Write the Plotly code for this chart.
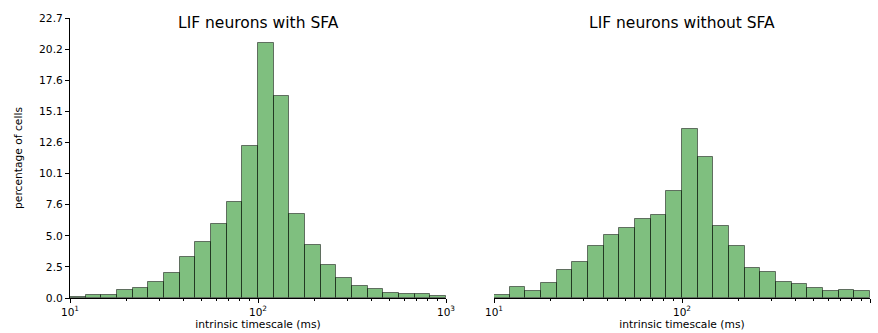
import numpy as np
import plotly.graph_objects as go

# 24 log-spaced bins from 10 to 1000 ms (12 per decade)
bin_edges = [10 ** (1 + k / 12) for k in range(25)]
bin_left = bin_edges[:-1]
bin_width = [bin_edges[i + 1] - bin_edges[i] for i in range(24)]

with_sfa = [0.09, 0.22, 0.22, 0.62, 0.84, 1.32, 2.03, 3.30, 4.54, 6.03, 7.76, 12.30,
            20.62, 16.40, 6.84, 4.32, 2.65, 1.62, 1.00, 0.76, 0.41, 0.35, 0.30, 0.19]
without_sfa = [0.22, 0.86, 0.57, 1.22, 2.27, 2.95, 4.19, 5.08, 5.68, 6.38, 6.73, 8.68,
               13.68, 11.40, 5.81, 4.22, 2.43, 2.08, 1.30, 1.11, 0.84, 0.57, 0.62, 0.54]

titles = ["LIF neurons with SFA", "LIF neurons without SFA"]
ymax = 22.68
ytick_vals = list(np.linspace(0, ymax, 10))
ytick_text = ["0.0", "2.5", "5.0", "7.6", "10.1", "12.6", "15.1", "17.6", "20.2", "22.7"]
xtick_vals = [10, 100, 1000]
xtick_text = ["10<sup>1</sup>", "10<sup>2</sup>", "10<sup>3</sup>"]

FONT = "DejaVu Sans"
fill = "rgba(0,128,0,0.5)"
edge = "rgba(0,0,0,0.5)"

fig = go.Figure()
for i, vals in enumerate([with_sfa, without_sfa]):
    xa = "x" if i == 0 else "x2"
    ya = "y" if i == 0 else "y2"
    fig.add_trace(go.Bar(x=bin_left, y=vals, width=bin_width, offset=0,
                         xaxis=xa, yaxis=ya,
                         marker=dict(color=fill, line=dict(color=edge, width=1)),
                         showlegend=False))

W, H = 878, 333
x_dom = [[70 / W, 446 / W], [494 / W, 870 / W]]
y_dom = [35 / H, 315 / H]

layout = dict(
    width=W, height=H, margin=dict(l=0, r=0, t=0, b=0, autoexpand=False),
    paper_bgcolor="white", plot_bgcolor="white",
    bargap=0, font=dict(family=FONT, size=10, color="black"),
)
for i in range(2):
    sx = "" if i == 0 else "2"
    layout["xaxis" + sx] = dict(
        type="log", range=[1, 3], domain=x_dom[i], anchor="y" + sx, automargin=False,
        tickvals=xtick_vals, ticktext=xtick_text, ticks="outside", ticklen=4,
        tickcolor="black", showline=True, linecolor="black", linewidth=1,
        showgrid=False, zeroline=False, tickfont=dict(size=10.5),
        minor=dict(ticks="outside", ticklen=2, tickcolor="black", dtick="D1", showgrid=False),
        title=dict(text="intrinsic timescale (ms)", font=dict(size=10.7), standoff=3),
    )
    ydict = dict(
        range=[0, ymax], domain=y_dom, anchor="x" + sx, automargin=False,
        showgrid=False, zeroline=False,
    )
    if i == 0:
        ydict.update(tickvals=ytick_vals, ticktext=ytick_text, ticks="outside", ticklen=4,
                     tickcolor="black", showline=True, linecolor="black", linewidth=1,
                     tickfont=dict(size=10.7),
                     title=dict(text="percentage of cells", font=dict(size=10.7), standoff=14))
    else:
        ydict.update(showticklabels=False, showline=False, ticks="")
    layout["yaxis" + sx] = ydict

annotations = []
for i, t in enumerate(titles):
    annotations.append(dict(text=t, x=(x_dom[i][0] + x_dom[i][1]) / 2, y=1 - 23 / H,
                            xref="paper", yref="paper", showarrow=False,
                            xanchor="center", yanchor="middle",
                            font=dict(family=FONT, size=15.5, color="black")))
layout["annotations"] = annotations
fig.update_layout(**layout)
fig.write_html("out.html")
